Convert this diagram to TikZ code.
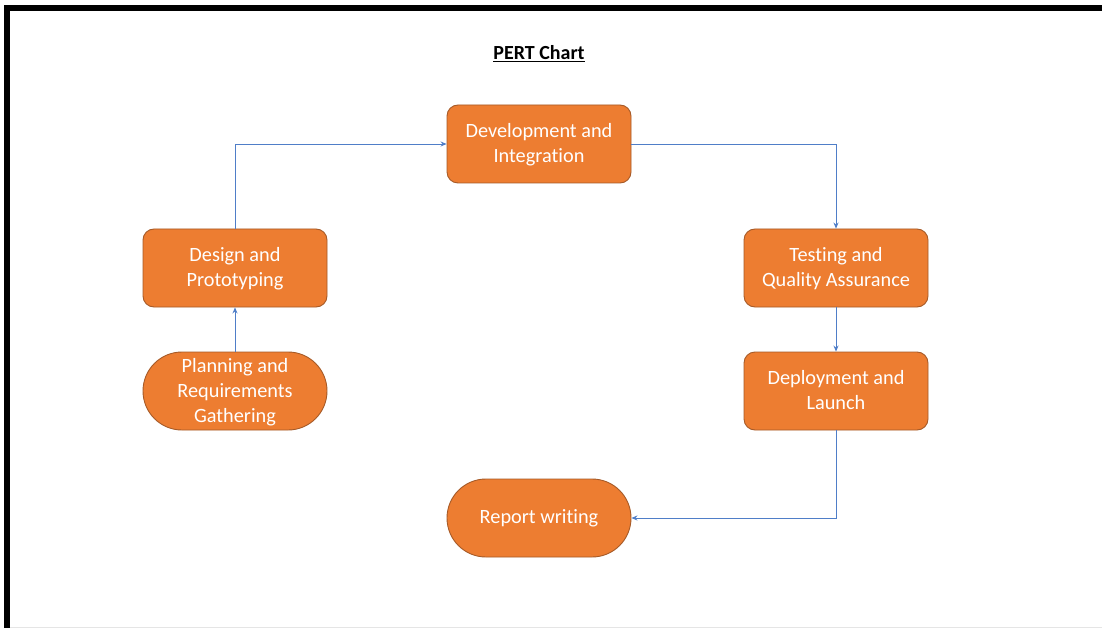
\documentclass[tikz,border=0pt]{standalone}
\usepackage{fontspec}
\setmainfont[Ligatures=NoCommon]{Carlito}
\usetikzlibrary{shapes.misc,arrows.meta}
\definecolor{boxfill}{HTML}{ED7D31}
\definecolor{boxline}{HTML}{A65A27}
\definecolor{arrowblue}{HTML}{4F7EC8}
\tikzset{
  box/.style={draw=boxline, line width=0.9pt, fill=boxfill, rounded corners=11pt,
    minimum width=184pt, minimum height=78pt, align=center, text=white,
    font=\fontsize{20.3}{25}\selectfont, inner sep=0pt, text depth=2pt},
  pill/.style={box, rounded rectangle, rounded corners=0pt},
  conn/.style={draw=arrowblue, line width=0.8pt, -{Stealth[length=6pt,width=5pt]}}
}
\begin{document}
\begin{tikzpicture}[x=1pt,y=-1pt]
\useasboundingbox (0,0) rectangle (1102,628);
\fill[white] (0,0) rectangle (1102,628);
\fill[black] (4,5) rectangle (1102,11);
\fill[black] (4,5) rectangle (10,628);
\draw[gray!20, line width=1pt] (10,627.5) -- (1102,627.5);
\node[font=\bfseries\fontsize{20}{24}\selectfont] (title) at (539,53.5) {\underline{PERT Chart}};
\node[box] (dev) at (539,144) {Development and\\Integration};
\node[box] (des) at (235,268) {Design and\\Prototyping};
\node[pill] (plan) at (235,391) {Planning and\\Requirements\\Gathering};
\node[box] (test) at (836,268) {Testing and\\Quality Assurance};
\node[box] (dep) at (836,391) {Deployment and\\Launch};
\node[pill] (rep) at (539,518) {Report writing};
\draw[conn] (plan.north) -- (des.south);
\draw[conn] (des.north) |- (dev.west);
\draw[conn] (dev.east) -| (test.north);
\draw[conn] (test.south) -- (dep.north);
\draw[conn] (dep.south) |- (rep.east);
\end{tikzpicture}
\end{document}
